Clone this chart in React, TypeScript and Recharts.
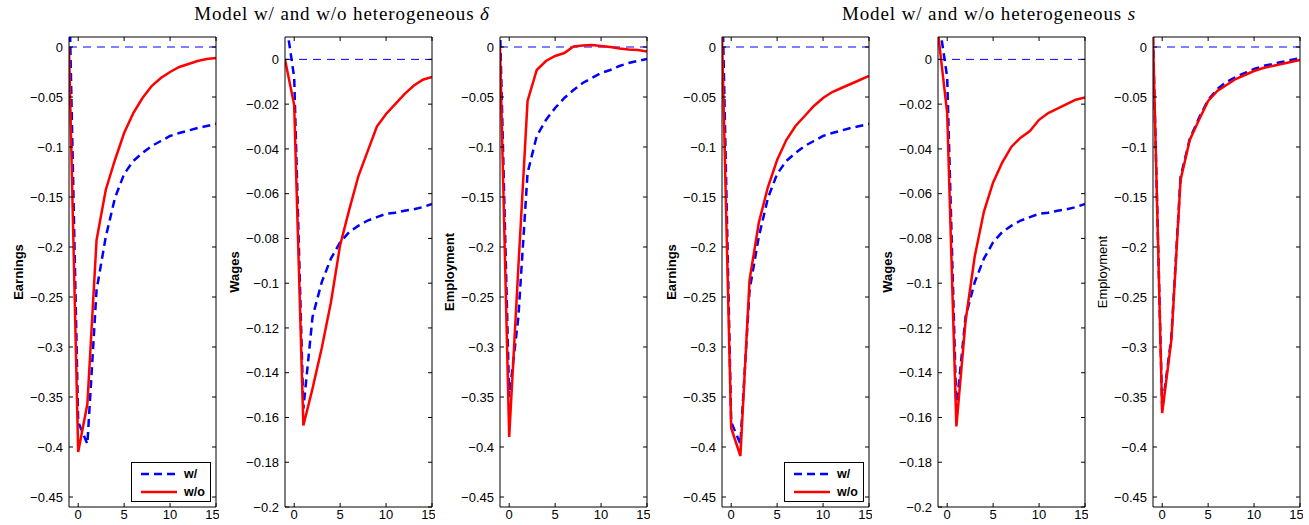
import React from "react";
import { LineChart, Line, XAxis, YAxis, ReferenceLine, Label } from "recharts";

// quarters after the shock, -1 is the pre-shock period
const periods = [-1, 0, 1, 2, 3, 4, 5, 6, 7, 8, 9, 10, 11, 12, 13, 14, 15];

// model with heterogeneity (same in both groups for earnings and wages)
const earningsW = [0.065, -0.375, -0.397, -0.243, -0.19, -0.151, -0.127, -0.114, -0.106, -0.099, -0.094, -0.089, -0.086, -0.0835, -0.081, -0.079, -0.0768];
const wagesW = [0.02, -0.008, -0.156, -0.115, -0.0995, -0.089, -0.0817, -0.0771, -0.0743, -0.072, -0.0705, -0.069, -0.0685, -0.0676, -0.067, -0.066, -0.0646];
const employmentWDelta = [0.02, -0.35, -0.27, -0.126, -0.089, -0.073, -0.061, -0.051, -0.043, -0.036, -0.031, -0.026, -0.023, -0.019, -0.016, -0.014, -0.012];
const employmentWS = [0.01, -0.362, -0.29, -0.13, -0.092, -0.071, -0.053, -0.042, -0.035, -0.03, -0.026, -0.022, -0.019, -0.017, -0.015, -0.013, -0.011];

// model without heterogeneous delta
const earningsWoDelta = [0, -0.405, -0.357, -0.193, -0.143, -0.113, -0.086, -0.066, -0.051, -0.039, -0.031, -0.025, -0.02, -0.017, -0.014, -0.012, -0.011];
const wagesWoDelta = [0, -0.0204, -0.1636, -0.147, -0.129, -0.1085, -0.083, -0.067, -0.052, -0.041, -0.03, -0.0244, -0.02, -0.0155, -0.0118, -0.0091, -0.0078];
const employmentWoDelta = [0, -0.39, -0.22, -0.054, -0.023, -0.014, -0.009, -0.006, 0.0006, 0.0016, 0.002, 0.001, 0, -0.0015, -0.0025, -0.003, -0.0045];

// model without heterogeneous s
const earningsWoS = [0.012, -0.381, -0.409, -0.233, -0.176, -0.14, -0.113, -0.093, -0.079, -0.069, -0.059, -0.051, -0.045, -0.041, -0.037, -0.033, -0.029];
const wagesWoS = [0.012, -0.024, -0.164, -0.117, -0.088, -0.068, -0.055, -0.046, -0.039, -0.035, -0.032, -0.027, -0.024, -0.022, -0.02, -0.018, -0.017];
const employmentWoS = [0.01, -0.366, -0.293, -0.133, -0.093, -0.073, -0.054, -0.044, -0.038, -0.032, -0.028, -0.024, -0.021, -0.019, -0.017, -0.015, -0.013];

const xTicks = [0, 5, 10, 15];
const bigTicks = [0, -0.05, -0.1, -0.15, -0.2, -0.25, -0.3, -0.35, -0.4, -0.45];
const wageTicks = [0, -0.02, -0.04, -0.06, -0.08, -0.1, -0.12, -0.14, -0.16, -0.18, -0.2];

const titles = ["Model w/ and w/o heterogeneous ", "Model w/ and w/o heterogeneous "];
const titleSymbols = ["\u03b4", "s"];
const legendNames = ["w/", "w/o"];

const BLUE = "#0000ff";
const RED = "#ff0000";
const SANS = "'Liberation Sans', Arial, sans-serif";
const SERIF = "'Liberation Serif', 'Times New Roman', serif";

const AXIS_W = 60;
const PLOT_W = 147;
const PLOT_TOP = 37;
const PLOT_BOTTOM = 507;
const H = 525;

type Panel = {
  label: string;
  bold: boolean;
  w: number[];
  wo: number[];
  domain: [number, number];
  ticks: number[];
  left: number;
  legend?: boolean;
};

const panels: Panel[] = [
  { label: "Earnings", bold: true, w: earningsW, wo: earningsWoDelta, domain: [-0.46, 0.01], ticks: bigTicks, left: 69, legend: true },
  { label: "Wages", bold: true, w: wagesW, wo: wagesWoDelta, domain: [-0.2, 0.01], ticks: wageTicks, left: 285 },
  { label: "Employment", bold: true, w: employmentWDelta, wo: employmentWoDelta, domain: [-0.46, 0.01], ticks: bigTicks, left: 500 },
  { label: "Earnings", bold: true, w: earningsW, wo: earningsWoS, domain: [-0.46, 0.01], ticks: bigTicks, left: 722, legend: true },
  { label: "Wages", bold: true, w: wagesW, wo: wagesWoS, domain: [-0.2, 0.01], ticks: wageTicks, left: 938 },
  { label: "Employment", bold: false, w: employmentWS, wo: employmentWoS, domain: [-0.46, 0.01], ticks: bigTicks, left: 1153 },
];

const fmt = (v: number) => (v === 0 ? "0" : String(v).replace("-", "\u2212"));
const blank = () => "";

function LegendBox({ right }: { right: number }) {
  return (
    <div
      style={{
        position: "absolute",
        left: right - 85,
        top: 462,
        width: 78,
        height: 38,
        border: "1px solid #000",
        background: "#fff",
        fontFamily: SANS,
        fontWeight: 700,
        fontSize: 12.5,
      }}
    >
      {legendNames.map((name, i) => (
        <div key={name} style={{ position: "absolute", left: 0, top: 3 + i * 18, height: 16, display: "flex", alignItems: "center" }}>
          <svg width={48} height={16}>
            <line
              x1={9}
              x2={45}
              y1={8}
              y2={8}
              stroke={i === 0 ? BLUE : RED}
              strokeWidth={2.5}
              strokeDasharray={i === 0 ? "8 5" : undefined}
            />
          </svg>
          <span style={{ marginLeft: 4 }}>{name}</span>
        </div>
      ))}
    </div>
  );
}

function IrfPanel({ p }: { p: Panel }) {
  const data = periods.map((t, i) => ({ t, w: p.w[i], wo: p.wo[i] }));
  const tickStyle = { fill: "#000", fontSize: 13, fontFamily: SANS };
  return (
    <div style={{ position: "absolute", left: p.left - AXIS_W, top: 0 }}>
      <LineChart
        width={AXIS_W + PLOT_W + 3}
        height={H}
        data={data}
        margin={{ top: PLOT_TOP - 1, right: 2, bottom: 0, left: 0 }}
      >
        <XAxis
          xAxisId="b"
          dataKey="t"
          type="number"
          domain={[-1, 15]}
          ticks={xTicks}
          allowDataOverflow
          height={H - PLOT_BOTTOM}
          tickSize={-4}
          tickMargin={7}
          stroke="#000"
          tick={tickStyle}
        />
        <XAxis
          xAxisId="t"
          orientation="top"
          dataKey="t"
          type="number"
          domain={[-1, 15]}
          ticks={xTicks}
          allowDataOverflow
          height={1}
          tickSize={-4}
          tickFormatter={blank}
          stroke="#000"
        />
        <YAxis
          yAxisId="l"
          type="number"
          domain={p.domain}
          ticks={p.ticks}
          allowDataOverflow
          width={AXIS_W}
          tickSize={-4}
          tickMargin={10}
          tickFormatter={fmt}
          stroke="#000"
          tick={tickStyle}
        >
          <Label
            value={p.label}
            angle={-90}
            position="center"
            dx={AXIS_W / 2 - 51}
            style={{ fontFamily: SANS, fontSize: 13, fontWeight: p.bold ? 700 : 400, fill: "#000" }}
          />
        </YAxis>
        <YAxis
          yAxisId="r"
          orientation="right"
          type="number"
          domain={p.domain}
          ticks={p.ticks}
          allowDataOverflow
          width={1}
          tickSize={-4}
          tickFormatter={blank}
          stroke="#000"
        />
        <ReferenceLine xAxisId="b" yAxisId="l" y={0} stroke={BLUE} strokeWidth={1} strokeDasharray="8 6" />
        <Line
          xAxisId="b"
          yAxisId="l"
          dataKey="w"
          stroke={BLUE}
          strokeWidth={2.5}
          strokeDasharray="8 5"
          dot={false}
          type="linear"
          isAnimationActive={false}
        />
        <Line
          xAxisId="b"
          yAxisId="l"
          dataKey="wo"
          stroke={RED}
          strokeWidth={2.5}
          dot={false}
          type="linear"
          isAnimationActive={false}
        />
      </LineChart>
    </div>
  );
}

export default function App() {
  return (
    <div style={{ position: "absolute", left: 0, top: 0, width: 1309, height: H, background: "#fff", overflow: "hidden" }}>
      {panels.map((p, i) => (
        <IrfPanel key={i} p={p} />
      ))}
      {panels.map((p, i) => (p.legend ? <LegendBox key={"lg" + i} right={p.left + PLOT_W} /> : null))}
      {[342, 989].map((cx, i) => (
        <div
          key={"t" + i}
          style={{
            position: "absolute",
            left: cx,
            top: 3,
            transform: "translateX(-50%)",
            fontFamily: SERIF,
            fontSize: 19,
            letterSpacing: 0.9,
            whiteSpace: "nowrap",
            color: "#000",
          }}
        >
          {titles[i]}
          <span style={{ fontStyle: "italic" }}>{titleSymbols[i]}</span>
        </div>
      ))}
    </div>
  );
}
